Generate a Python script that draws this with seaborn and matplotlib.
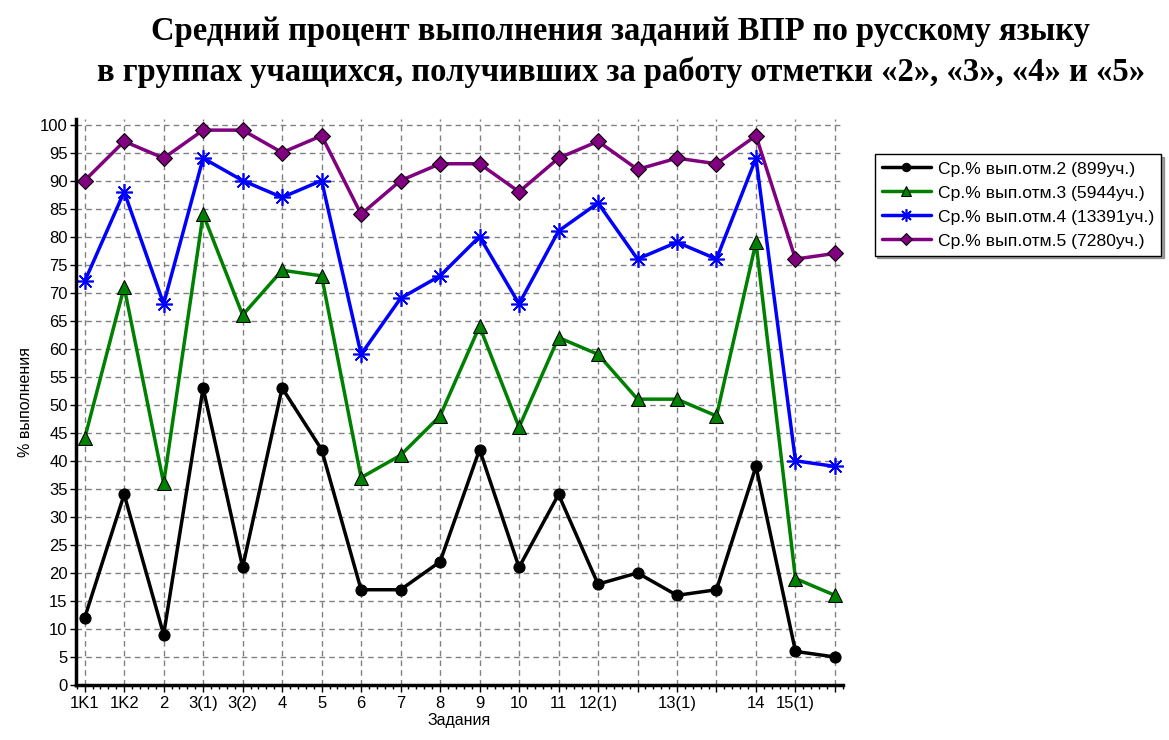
import numpy as np
import pandas as pd
import matplotlib
matplotlib.use("Agg")
import matplotlib.pyplot as plt
import seaborn as sns
from matplotlib.ticker import MultipleLocator, FixedLocator

tasks = ["1K1", "1K2", "2", "3(1)", "3(2)", "4", "5", "6", "7", "8", "9", "10",
         "11", "12(1)", "", "13(1)", "", "14", "15(1)", ""]
grade2 = [12, 34, 9, 53, 21, 53, 42, 17, 17, 22, 42, 21, 34, 18, 20, 16, 17, 39, 6, 5]
grade3 = [44, 71, 36, 84, 66, 74, 73, 37, 41, 48, 64, 46, 62, 59, 51, 51, 48, 79, 19, 16]
grade4 = [72, 88, 68, 94, 90, 87, 90, 59, 69, 73, 80, 68, 81, 86, 76, 79, 76, 94, 40, 39]
grade5 = [90, 97, 94, 99, 99, 95, 98, 84, 90, 93, 93, 88, 94, 97, 92, 94, 93, 98, 76, 77]
series_names = ["Ср.% вып.отм.2 (899уч.)", "Ср.% вып.отм.3 (5944уч.)",
                "Ср.% вып.отм.4 (13391уч.)", "Ср.% вып.отм.5 (7280уч.)"]

sns.set_theme(style="white")
plt.rcParams['font.family'] = ['Liberation Sans', 'DejaVu Sans']
plt.rcParams['text.color'] = 'black'
plt.rcParams['axes.labelcolor'] = 'black'
plt.rcParams['xtick.color'] = 'black'
plt.rcParams['ytick.color'] = 'black'

fig = plt.figure(figsize=(11.69, 7.40), dpi=100)
ax = fig.add_axes([0.065, 0.0743, 0.656, 0.765])

pos = np.arange(len(tasks))
styles = [
    dict(color="black", marker="o", ms=8, mec="black", mfc="black"),
    dict(color="#008000", marker="^", ms=10, mec="black", mfc="#008000"),
    dict(color="#0000FF", marker=(8, 2, 0), ms=12, mec="#0000FF", mfc="#0000FF", mew=1.2),
    dict(color="#800080", marker="D", ms=8, mec="black", mfc="#800080"),
]
for vals, name, st in zip([grade2, grade3, grade4, grade5], series_names, styles):
    sns.lineplot(x=pos, y=vals, ax=ax, label=name, linewidth=2.5, **st)

ax.set_xlim(-0.22, 19.2)
ax.set_ylim(0, 101)
ax.xaxis.set_major_locator(FixedLocator(pos))
ax.set_xticklabels(tasks, fontsize=12)
ax.xaxis.set_minor_locator(MultipleLocator(0.2))
ax.yaxis.set_major_locator(MultipleLocator(5))
ax.tick_params(axis='y', labelsize=12, length=4, width=1, direction='out', left=True, pad=2)
ax.tick_params(axis='x', which='major', length=5, width=1, direction='out', bottom=True, pad=3)
ax.tick_params(axis='x', which='minor', length=3, width=1, direction='out', bottom=True)
ax.grid(True, which='major', color='#808080', linestyle=(0, (4, 3)), linewidth=1)
ax.set_axisbelow(True)
for s in ['top', 'right']:
    ax.spines[s].set_visible(False)
for s in ['left', 'bottom']:
    ax.spines[s].set_color('black')
    ax.spines[s].set_linewidth(2.5)

ax.set_xlabel("Задания", fontsize=11.5, labelpad=1)
ax.set_ylabel("% выполнения", fontsize=11.5, labelpad=5)

leg = ax.legend(loc='upper left', bbox_to_anchor=(1.03, 0.953), frameon=True,
                fancybox=False, shadow=True, fontsize=12.6, borderpad=0.4,
                labelspacing=0.5, handlelength=2.8, handletextpad=0.4,
                markerscale=0.75)
leg.get_frame().set_edgecolor('black')
leg.get_frame().set_linewidth(1)

fig.text(0.531, 0.958, "Средний процент выполнения заданий ВПР по русскому языку",
         ha='center', va='center', fontsize=23.5, fontweight='bold', color='black',
         family=['Liberation Serif', 'DejaVu Serif'])
fig.text(0.531, 0.902, "в группах учащихся, получивших за работу отметки «2», «3», «4» и «5»",
         ha='center', va='center', fontsize=23.5, fontweight='bold', color='black',
         family=['Liberation Serif', 'DejaVu Serif'])

fig.savefig("out.png", dpi=100)
